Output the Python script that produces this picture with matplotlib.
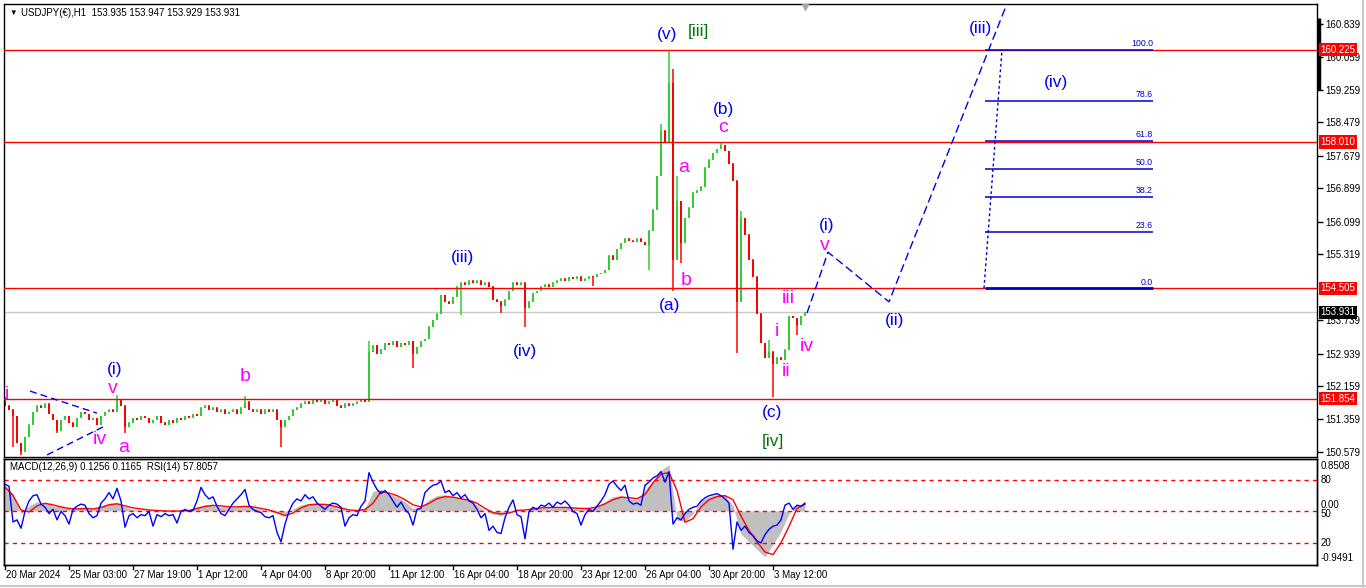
import numpy as np
import matplotlib.pyplot as plt
import matplotlib.transforms as mtransforms

plt.rcParams['font.family'] = ['Liberation Sans', 'DejaVu Sans']

W, H = 1366, 588

# USDJPY H1, one entry per 4 hours from 20 Mar 2024
open0 = 151.80
closes = [
    151.70, 151.60, 151.45, 150.80, 150.60, 150.95, 151.25, 151.55, 151.70, 151.65,
    151.75, 151.50, 151.35, 151.10, 151.35, 151.45, 151.30, 151.20, 151.40, 151.55,
    151.50, 151.35, 151.40, 151.25, 151.45, 151.55, 151.60, 151.55, 151.85, 151.70,
    151.20, 151.30, 151.40, 151.35, 151.45, 151.40, 151.30, 151.35, 151.45, 151.30,
    151.25, 151.35, 151.30, 151.40, 151.35, 151.45, 151.40, 151.50, 151.45, 151.65,
    151.70, 151.60, 151.65, 151.55, 151.60, 151.50, 151.55, 151.60, 151.50, 151.65,
    151.80, 151.60, 151.55, 151.60, 151.50, 151.60, 151.55, 151.60, 151.35, 151.20,
    151.35, 151.45, 151.60, 151.65, 151.75, 151.80, 151.75, 151.85, 151.80, 151.85,
    151.75, 151.80, 151.85, 151.70, 151.65, 151.75, 151.70, 151.75, 151.80, 151.85,
    151.80, 153.00, 153.15, 152.95, 153.05, 153.20, 153.15, 153.25, 153.10, 153.20,
    153.15, 153.25, 152.95, 153.10, 153.25, 153.30, 153.60, 153.75, 153.90, 154.35,
    154.20, 154.15, 154.30, 154.55, 154.65, 154.60, 154.70, 154.65, 154.70, 154.60,
    154.65, 154.55, 154.25, 154.20, 154.10, 154.25, 154.45, 154.65, 154.60, 154.65,
    154.05, 154.20, 154.40, 154.45, 154.55, 154.60, 154.55, 154.65, 154.70, 154.75,
    154.70, 154.78, 154.75, 154.80, 154.70, 154.75, 154.80, 154.78, 154.85, 154.88,
    154.95, 155.30, 155.20, 155.45, 155.60, 155.70, 155.65, 155.62, 155.70, 155.62,
    155.55, 155.90, 156.40, 157.20, 158.30, 158.00, 159.45, 155.20, 156.60, 155.60,
    156.20, 156.45, 156.80, 156.85, 156.95, 157.40, 157.60, 157.75, 157.85, 157.95,
    157.80, 157.50, 157.10, 154.20, 156.20, 155.80, 155.20, 154.80, 153.90, 153.20,
    152.85, 153.00, 152.70, 152.85, 152.80, 153.05, 153.85, 153.80, 153.65, 153.85,
    153.93,
]
wick_high = {0: 151.90, 28: 151.95, 60: 151.93, 91: 153.25, 164: 158.45,
             166: 160.22, 167: 159.75, 168: 157.20, 179: 158.01, 184: 156.35,
             191: 153.26}
wick_low = {2: 150.70, 4: 150.50, 13: 151.03, 30: 151.03, 69: 150.70,
            102: 152.59, 114: 153.86, 124: 153.90, 130: 153.58, 147: 154.55,
            161: 154.95, 167: 154.45, 169: 155.10, 183: 152.95, 192: 151.90,
            198: 153.38}

# RSI(14), one value per 4 hours
rsi = [
    76, 74, 40, 42, 34, 50, 60, 65, 66, 57, 54, 48, 52, 42, 50, 46, 38, 52, 55, 57,
    56, 48, 44, 46, 58, 62, 68, 62, 72, 60, 35, 46, 48, 44, 47, 46, 50, 36, 47, 45,
    48, 46, 47, 39, 50, 52, 50, 51, 60, 73, 66, 62, 64, 55, 48, 46, 52, 58, 62, 66,
    71, 56, 52, 50, 49, 45, 44, 46, 30, 21, 38, 50, 58, 62, 60, 66, 62, 64, 58, 55,
    52, 56, 58, 57, 54, 36, 44, 47, 46, 55, 60, 87, 78, 71, 67, 70, 66, 60, 54, 59,
    52, 48, 37, 52, 53, 68, 72, 75, 76, 79, 68, 70, 65, 68, 63, 66, 60, 58, 52, 44,
    48, 32, 36, 30, 29, 44, 54, 61, 47, 45, 24, 50, 54, 52, 56, 55, 58, 54, 59, 57,
    60, 56, 50, 48, 37, 47, 52, 50, 55, 60, 66, 76, 79, 74, 70, 75, 60, 57, 58, 56,
    75, 78, 82, 84, 88, 78, 88, 38, 44, 42, 48, 52, 54, 55, 60, 63, 65, 66, 67, 65,
    62, 58, 14, 40, 32, 36, 30, 27, 22, 20, 28, 33, 36, 37, 42, 56, 58, 52, 56, 55,
    58,
]

# MACD(12,26,9), one value per 8 hours
macd_hist = [
    0.47, 0.35, -0.06, 0.10, 0.18, 0.16, 0.10, 0.08, 0.05, 0.05,
    0.06, 0.04, 0.10, 0.15, 0.17, 0.08, 0.03, 0.02, 0.01, 0.00,
    -0.01, 0.00, 0.01, 0.03, 0.08, 0.12, 0.11, 0.08, 0.07, 0.08,
    0.10, 0.07, 0.03, 0.01, -0.04, -0.10, 0.04, 0.12, 0.15, 0.16,
    0.12, 0.10, 0.06, 0.00, 0.02, 0.05, 0.38, 0.42, 0.33, 0.28,
    0.18, 0.05, 0.08, 0.22, 0.30, 0.32, 0.28, 0.25, 0.20, 0.12,
    0.00, -0.06, -0.08, -0.02, 0.04, 0.00, 0.05, 0.06, 0.07, 0.08,
    0.08, 0.06, 0.03, 0.06, 0.10, 0.18, 0.28, 0.30, 0.25, 0.22,
    0.40, 0.60, 0.80, 0.90, -0.18, -0.20, -0.05, 0.20, 0.28, 0.32,
    0.30, 0.10, -0.45, -0.60, -0.75, -0.90, -0.65, -0.40, -0.05, 0.12,
    0.13,
]
macd_signal = [
    0.47, 0.30, 0.02, -0.02, 0.10, 0.15, 0.12, 0.08, 0.05, 0.04,
    0.05, 0.04, 0.07, 0.12, 0.14, 0.10, 0.06, 0.04, 0.02, 0.01,
    0.00, 0.00, 0.00, 0.01, 0.05, 0.09, 0.11, 0.10, 0.08, 0.08,
    0.09, 0.08, 0.05, 0.02, -0.03, -0.09, -0.04, 0.06, 0.12, 0.13,
    0.13, 0.10, 0.06, 0.02, 0.01, 0.03, 0.15, 0.38, 0.35, 0.30,
    0.22, 0.12, 0.08, 0.15, 0.24, 0.28, 0.27, 0.24, 0.21, 0.15,
    0.05, -0.03, -0.06, -0.04, 0.01, 0.02, 0.04, 0.06, 0.07, 0.07,
    0.07, 0.06, 0.05, 0.05, 0.08, 0.14, 0.22, 0.27, 0.26, 0.24,
    0.32, 0.55, 0.72, 0.75, 0.40, -0.22, -0.15, 0.08, 0.22, 0.28,
    0.30, 0.22, -0.10, -0.38, -0.60, -0.80, -0.85, -0.62, -0.30, 0.05,
    0.13,
]

time_labels = ['20 Mar 2024', '25 Mar 03:00', '27 Mar 19:00', '1 Apr 12:00', '4 Apr 04:00',
               '8 Apr 20:00', '11 Apr 12:00', '16 Apr 04:00', '18 Apr 20:00', '23 Apr 12:00',
               '26 Apr 04:00', '30 Apr 20:00', '3 May 12:00']
price_ticks = [160.839, 160.059, 159.259, 158.479, 157.679, 156.899, 156.099, 155.319,
               153.739, 152.939, 152.159, 151.359, 150.579]
red_levels = [160.225, 158.010, 154.505, 151.854]
last_price = 153.931

fib_names = ['100.0', '78.6', '61.8', '50.0', '38.2', '23.6', '0.0']
fib_low, fib_high = 154.505, 160.225

# projected wave path and wedge lines (hour, price)
proj_h = [802, 823, 884, 1005]
proj_p = [153.91, 155.37, 154.18, 161.51]
wedge_up_h, wedge_up_p = [25, 92], [152.04, 151.51]
wedge_lo_h, wedge_lo_p = [42, 98], [150.51, 151.18]

BLUE, MAG, GRN = '#0000FF', '#FF00FF', '#007A00'
labels = [
    ('i', 2, 151.95, MAG), ('(i)', 110, 152.55, BLUE), ('v', 108, 152.09, MAG),
    ('iv', 95, 150.87, MAG), ('a', 119, 150.68, MAG), ('b', 240, 152.38, MAG),
    ('(iii)', 457, 155.25, BLUE), ('(iv)', 520, 153.00, BLUE),
    ('(v)', 662, 160.575, BLUE), ('[iii]', 693, 160.65, GRN),
    ('a', 679, 157.39, MAG), ('b', 681, 154.70, MAG), ('(a)', 665, 154.10, BLUE),
    ('(b)', 719, 158.80, BLUE), ('c', 718, 158.35, MAG),
    ('iii', 783, 154.25, MAG), ('i', 772, 153.48, MAG), ('ii', 781, 152.50, MAG),
    ('iv', 802, 153.10, MAG), ('(c)', 767, 151.52, BLUE), ('[iv]', 768, 150.84, GRN),
    ('(i)', 822, 156.00, BLUE), ('v', 820, 155.52, MAG), ('(ii)', 890, 153.74, BLUE),
    ('(iii)', 975, 160.72, BLUE), ('(iv)', 1051, 159.43, BLUE),
]

fig = plt.figure(figsize=(W / 100, H / 100), dpi=100)
fig.patch.set_facecolor('white')


def frac(x0, y0, x1, y1):
    return [x0 / W, 1 - y1 / H, (x1 - x0) / W, (y1 - y0) / H]


ax = fig.add_axes(frac(4, 4, 1317, 457))
ax.set_xlim(-1, 1312)
ax.set_ylim(150.460, 161.318)

hours = np.arange(len(closes)) * 4
opens = [open0] + closes[:-1]
highs = [max(o, c) for o, c in zip(opens, closes)]
lows = [min(o, c) for o, c in zip(opens, closes)]
for k, v in wick_high.items():
    highs[k] = v
for k, v in wick_low.items():
    lows[k] = v
cols = ['#32CD32' if c >= o else '#FF0000' for o, c in zip(opens, closes)]
ax.vlines(hours, lows, highs, colors=cols, lw=1.1, zorder=2)
ax.bar(hours, [max(abs(c - o), 0.03) for o, c in zip(opens, closes)],
       bottom=[min(o, c) - 0.015 for o, c in zip(opens, closes)],
       width=2.5, color=cols, zorder=2)

ax.axhline(last_price, color='#C8C8C8', lw=1, zorder=1)
for lv in red_levels:
    ax.axhline(lv, color='red', lw=1, zorder=3)

# fibonacci grid
for name in fib_names:
    p = fib_low + float(name) / 100 * (fib_high - fib_low)
    ax.hlines(p, 980, 1148, color='#0000CC', lw=2 if name == '0.0' else 1.1, zorder=4)
    ax.text(1148, p + 0.04, name, ha='right', va='bottom', color='#0000CC', fontsize=6.3, zorder=5)
ax.plot([979, 997], [fib_low, fib_high], color='#0000CC', lw=1, ls=(0, (2, 2)), zorder=4)

ax.plot(proj_h, proj_p, color='#0000EE', lw=1, ls=(0, (6, 3)), zorder=4)
ax.plot(wedge_up_h, wedge_up_p, color='#0000EE', lw=1, ls=(0, (5, 3)), zorder=4)
ax.plot(wedge_lo_h, wedge_lo_p, color='#0000EE', lw=1, ls=(0, (5, 3)), zorder=4)

for txt, hx, py, c in labels:
    size = 14 if c == MAG else 12.5
    ax.text(hx, py, txt, color=c, fontsize=size, ha='center', va='center', zorder=6)

ax.plot(800, 161.25, marker='v', color='#A8A8A8', ms=5, clip_on=False, zorder=6)

ax.yaxis.tick_right()
ax.set_yticks(price_ticks)
ax.set_yticklabels(['%.3f' % t for t in price_ticks])
ax.tick_params(axis='y', length=4, width=1, labelsize=7, pad=2, direction='out')
ax.set_xticks([])
for s in ax.spines.values():
    s.set_linewidth(1)

tr = mtransforms.blended_transform_factory(ax.transAxes, ax.transData)
for lv in red_levels:
    ax.text(1.0025, lv, '%.3f' % lv, transform=tr, ha='left', va='center', color='white',
            fontsize=7, zorder=7, clip_on=False,
            bbox=dict(facecolor='red', edgecolor='none', pad=1.2))
ax.text(1.0025, last_price, '%.3f' % last_price, transform=tr, ha='left', va='center',
        color='white', fontsize=7, zorder=7, clip_on=False,
        bbox=dict(facecolor='black', edgecolor='none', pad=1.2))
ax.plot([1313.5, 1313.5], [160.98, 159.26], color='black', lw=2.5, clip_on=False, solid_capstyle='butt')

# indicator window
ax2 = fig.add_axes(frac(4, 459, 1317, 565))
ax2.set_xlim(-1, 1312)
ax2.set_ylim(-1, 100)
ax3 = ax2.twinx()
ax3.set_ylim(-1.053, 1.014)
mh = np.arange(len(macd_hist)) * 8
ax3.fill_between(mh, 0, macd_hist, color='#C0C0C0', lw=0, zorder=1)
ax3.plot(mh, macd_signal, color='red', lw=1, zorder=3)
ax2.set_zorder(ax3.get_zorder() + 1)
ax2.patch.set_visible(False)
ax2.plot(hours, rsi, color='#0000FF', lw=1, zorder=4)
for lv in [80, 50, 20]:
    ax2.axhline(lv, color='red', lw=1, ls=(0, (3, 3)), zorder=2)
ax2.set_yticks([])
ax3.set_yticks([])
ax2.set_xticks([])
for a in (ax2, ax3):
    for s in a.spines.values():
        s.set_linewidth(1)

for txt, yy in [('0.8508', 466), ('80', 480), ('50', 514), ('0.00', 505), ('20', 543), ('-0.9491', 558)]:
    fig.text(1321 / W, 1 - yy / H, txt, fontsize=7, ha='left', va='center')

for i, lab in enumerate(time_labels):
    xp = 5 + 64 * i
    fig.add_artist(plt.Line2D([xp / W, xp / W], [1 - 565 / H, 1 - 569 / H], color='black', lw=1))
    fig.text((xp + 1) / W, 1 - 575 / H, lab, fontsize=7, ha='left', va='center')

fig.text(9 / W, 1 - 13 / H, '\u25bc', fontsize=5.5, ha='left', va='center')
fig.text(21 / W, 1 - 13 / H, 'USDJPY(\u20ac),H1  153.935 153.947 153.929 153.931',
         fontsize=7, ha='left', va='center')
fig.text(10 / W, 1 - 467 / H, 'MACD(12,26,9) 0.1256 0.1165  RSI(14) 57.8057',
         fontsize=7, ha='left', va='center')

fig.add_artist(plt.Line2D([1363 / W, 1363 / W], [0, 1], color='#C8C8C8', lw=1.5))
fig.add_artist(plt.Line2D([0, 1], [1 - 586 / H, 1 - 586 / H], color='#C8C8C8', lw=1.5))

fig.savefig('out.png', dpi=100)
